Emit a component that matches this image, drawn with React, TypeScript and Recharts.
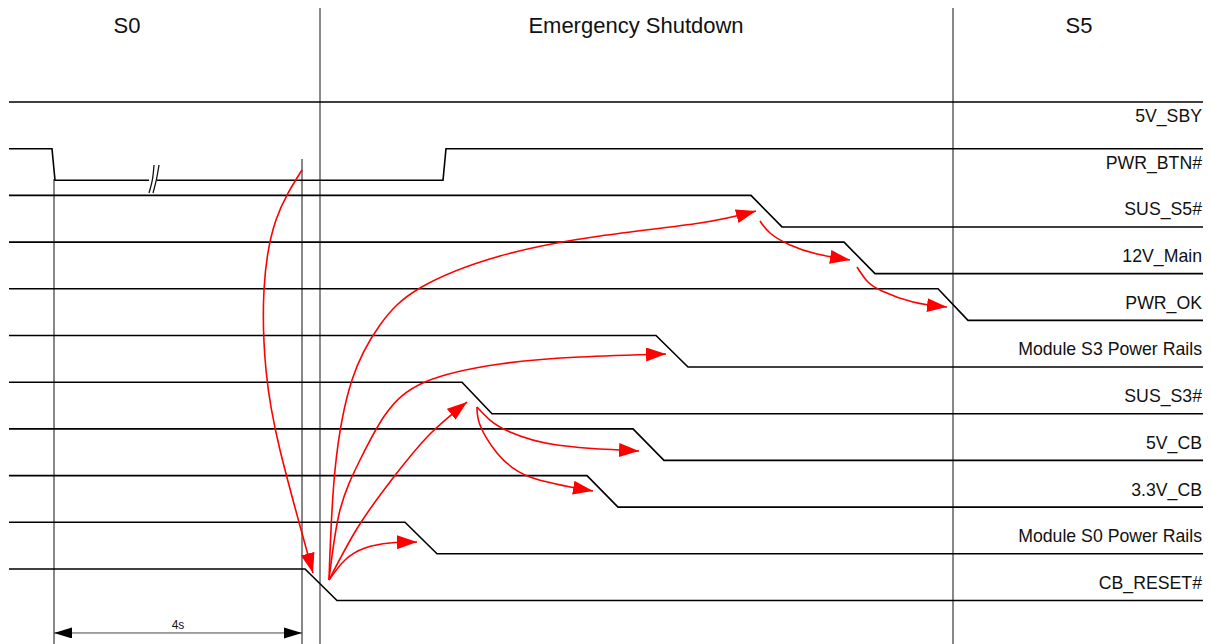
import { LineChart, Line, XAxis, YAxis, ReferenceLine, ReferenceDot } from "recharts";

// phases across the top
const phaseNames = ["S0", "Emergency Shutdown", "S5"];
const phaseCenters = [127, 636, 1079];
const phaseBounds = [320, 953];

// one lane per signal, top to bottom
const signalNames = [
  "5V_SBY",
  "PWR_BTN#",
  "SUS_S5#",
  "12V_Main",
  "PWR_OK",
  "Module S3 Power Rails",
  "SUS_S3#",
  "5V_CB",
  "3.3V_CB",
  "Module S0 Power Rails",
  "CB_RESET#",
];

// waveform edges: time and level (1 = high, 0 = low, null = break in the line)
const waveTimes = [
  [9, 1211],
  [9, 52, 55, 149, 153, 157, 443, 446, 1211],
  [9, 751, 782, 1211],
  [9, 844, 875, 1211],
  [9, 938, 968, 1211],
  [9, 656, 688, 1211],
  [9, 462, 492, 1211],
  [9, 633, 664, 1211],
  [9, 587, 618, 1211],
  [9, 405, 437, 1211],
  [9, 305, 337, 1211],
];
const waveLevels = [
  [1, 1],
  [1, 1, 0, 0, null, 0, 0, 1, 1],
  [1, 1, 0, 0],
  [1, 1, 0, 0],
  [1, 1, 0, 0],
  [1, 1, 0, 0],
  [1, 1, 0, 0],
  [1, 1, 0, 0],
  [1, 1, 0, 0],
  [1, 1, 0, 0],
  [1, 1, 0, 0],
];

// red cause -> effect arrows (time, lane position)
const arrowTimes = [
  [302, 276, 264, 266, 280, 313],
  [329, 335, 352, 380, 420, 500, 600, 700, 756],
  [329, 340, 360, 385, 425, 500, 580, 666],
  [329, 358, 393, 430, 467],
  [329, 345, 365, 390, 417],
  [477, 490, 510, 557, 639],
  [477, 480, 497, 530, 593],
  [760, 770, 790, 817, 850],
  [857, 867, 882, 913, 947],
];
const arrowLanes = [
  [1.456, 2.527, 4.026, 5.739, 7.452, 10.086],
  [10.236, 7.88, 5.953, 4.775, 3.983, 3.298, 2.869, 2.591, 2.334],
  [10.236, 8.737, 7.666, 6.702, 5.996, 5.61, 5.46, 5.396],
  [10.236, 9.101, 8.051, 7.109, 6.424],
  [10.236, 9.807, 9.55, 9.443, 9.422],
  [6.531, 6.81, 7.066, 7.345, 7.473],
  [6.531, 6.916, 7.516, 8.03, 8.33],
  [2.548, 2.805, 3.062, 3.255, 3.383],
  [3.533, 3.833, 4.047, 4.283, 4.39],
];

// "//" break marks on PWR_BTN#
const breakTimes = [
  [149, 152.5, 154],
  [153, 156.5, 159],
];
const breakLanes = [1.949, 1.649, 1.349];

// 4 s hold of the power button
const holdTimes = [54, 302];
const holdStartLanes = [1.649, 1.22];
const holdLabel = "4s";

const LOW_DROP = 0.675;
const FONT = "'Liberation Sans', Arial, sans-serif";

const lane = (i: number, level: number | null) => (level === null ? null : i + (1 - level) * LOW_DROP);

const waves = waveTimes.map((times, i) => times.map((t, k) => ({ t, r: lane(i, waveLevels[i][k]) })));
const arrows = arrowTimes.map((times, i) => times.map((t, k) => ({ t, r: arrowLanes[i][k] })));
const breaks = breakTimes.map((times) => times.map((t, k) => ({ t, r: breakLanes[k] })));

const textLabel = (value: string, anchor: string, size: number) => (props: any) => (
  <text
    x={props.viewBox.x}
    y={props.viewBox.y}
    textAnchor={anchor}
    fontSize={size}
    fontFamily={FONT}
    fill="#111"
  >
    {value}
  </text>
);

export default function App() {
  return (
    <div style={{ width: 1203, height: 636 }}>
      <svg width={0} height={0} style={{ position: "absolute" }}>
        <defs>
          <marker id="redHead" markerUnits="userSpaceOnUse" markerWidth={21} markerHeight={15} refX={20} refY={7} orient="auto">
            <path d="M0,0 L20,7 L0,14 Z" fill="#ff0000" />
          </marker>
          <marker id="blackHead" markerUnits="userSpaceOnUse" markerWidth={19} markerHeight={12} refX={18} refY={5.5} orient="auto-start-reverse">
            <path d="M0,0 L18,5.5 L0,11 Z" fill="#000" />
          </marker>
        </defs>
      </svg>
      <LineChart width={1203} height={636} margin={{ top: 0, right: 0, bottom: 0, left: 0 }}>
        <XAxis type="number" dataKey="t" domain={[8, 1211]} hide allowDataOverflow />
        <YAxis type="number" dataKey="r" domain={[-2.013, 11.606]} reversed hide allowDataOverflow />

        {phaseBounds.map((x, i) => (
          <ReferenceLine key={"pb" + i} x={x} stroke={i === 0 ? "#666" : "#111"} strokeWidth={i === 0 ? 1.5 : 1} />
        ))}
        {phaseNames.map((name, i) => (
          <ReferenceDot key={"ph" + i} x={phaseCenters[i]} y={-1.478} r={0} fill="none" stroke="none" label={textLabel(name, "middle", 22)} />
        ))}

        {holdTimes.map((t, i) => (
          <Line
            key={"hv" + i}
            data={[{ t, r: holdStartLanes[i] }, { t, r: 11.606 }]}
            dataKey="r"
            stroke="#111"
            strokeWidth={1}
            dot={false}
            isAnimationActive={false}
          />
        ))}
        <Line
          data={holdTimes.map((t) => ({ t, r: 11.37 }))}
          dataKey="r"
          stroke="#444"
          strokeWidth={1}
          dot={false}
          markerStart="url(#blackHead)"
          markerEnd="url(#blackHead)"
          isAnimationActive={false}
        />
        <ReferenceDot x={(holdTimes[0] + holdTimes[1]) / 2} y={11.285} r={0} fill="none" stroke="none" label={textLabel(holdLabel, "middle", 12)} />

        {waves.map((d, i) => (
          <Line
            key={"w" + i}
            data={d}
            dataKey="r"
            type="linear"
            stroke="#000"
            strokeWidth={1.6}
            dot={false}
            connectNulls={false}
            isAnimationActive={false}
          />
        ))}
        {breaks.map((d, i) => (
          <Line key={"b" + i} data={d} dataKey="r" type="natural" stroke="#111" strokeWidth={1.3} dot={false} isAnimationActive={false} />
        ))}
        {signalNames.map((name, i) => (
          <ReferenceDot key={"sn" + i} x={1202} y={i + 0.428} r={0} fill="none" stroke="none" label={textLabel(name, "end", 17.7)} />
        ))}

        {arrows.map((d, i) => (
          <Line
            key={"a" + i}
            data={d}
            dataKey="r"
            type="natural"
            stroke="#ff0000"
            strokeWidth={1.6}
            dot={false}
            markerEnd="url(#redHead)"
            isAnimationActive={false}
          />
        ))}
      </LineChart>
    </div>
  );
}
